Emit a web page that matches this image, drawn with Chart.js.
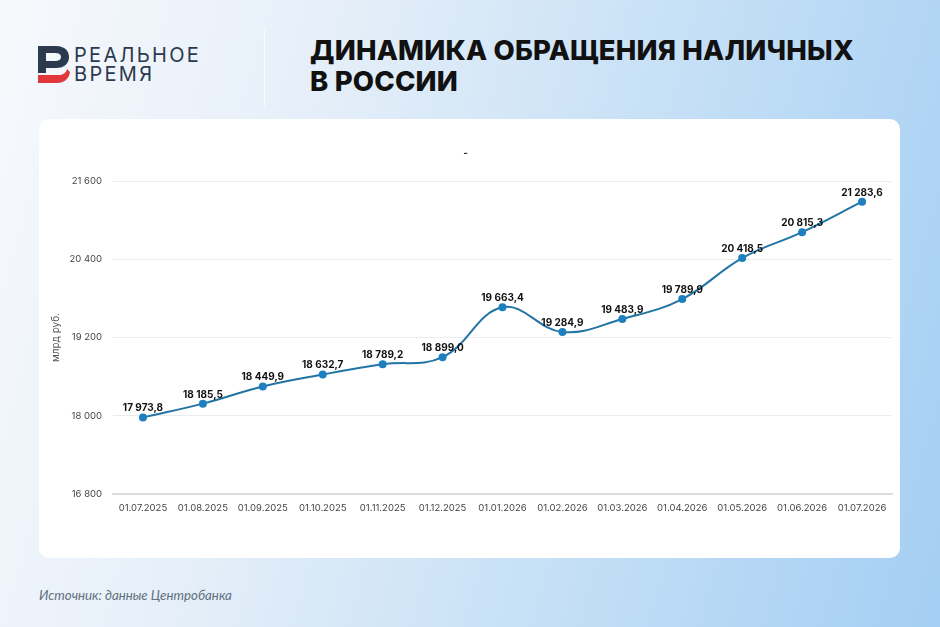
<!DOCTYPE html>
<html>
<head>
<meta charset="utf-8">
<script src="https://cdn.jsdelivr.net/npm/chart.js@4.4.1/dist/chart.umd.min.js"></script>
<style>
  html, body { margin: 0; padding: 0; }
  body {
    width: 940px; height: 627px; position: relative; overflow: hidden;
    background: linear-gradient(105deg, #f7f9fc 0%, #e6eff9 30%, #c4dff6 65%, #a4cef3 100%);
    font-family: Inter, "Noto Sans", sans-serif;
  }
  .logo-mark { position: absolute; left: 38px; top: 46px; }
  .logo-text {
    position: absolute; left: 74px; top: 46px; color: #2b3a4f;
    font-family: Inter, sans-serif; font-weight: 400; font-size: 20px; line-height: 19px; letter-spacing: 2.3px;
  }
  .sep { position: absolute; left: 264px; top: 30px; width: 1px; height: 76px; background: rgba(255,255,255,0.8); }
  .title {
    position: absolute; left: 310px; top: 35px; color: #111;
    font-family: Inter, sans-serif; font-weight: 800; font-size: 27.5px; line-height: 31px; letter-spacing: 0.2px;
  }
  .card { position: absolute; left: 39px; top: 119px; width: 861px; height: 439px; background: #fff; border-radius: 10px; }
  .card canvas { position: absolute; left: 0; top: 0; }
  .source {
    position: absolute; left: 39px; top: 587px; color: #5f7180;
    font-family: Lato, sans-serif; font-style: italic; font-weight: 400; font-size: 13.3px;
  }
</style>
</head>
<body>
<svg class="logo-mark" width="32" height="38" viewBox="0 0 32 38">
  <path d="M0 0 H18 C27 0 31 5 31 11 C31 17 27 22 18 22 H8 V27 H0 Z M8 7 V15 H17 C21 15 23 13.5 23 11 C23 8.5 21 7 17 7 Z" fill="#2b3a4f"/>
  <path d="M0 29 H20 C25 29 28 27 29 23 L32 26 C31 33 26 37 19 37 H0 Z" fill="#e0383b"/>
</svg>
<div class="logo-text">РЕАЛЬНОЕ<br>ВРЕМЯ</div>
<div class="sep"></div>
<div class="title">ДИНАМИКА ОБРАЩЕНИЯ НАЛИЧНЫХ<br>В РОССИИ</div>
<div class="card"><canvas id="chart" width="861" height="439"></canvas></div>
<div class="source">Источник: данные Центробанка</div>
<script>
const dates = ['01.07.2025', '01.08.2025', '01.09.2025', '01.10.2025', '01.11.2025', '01.12.2025',
  '01.01.2026', '01.02.2026', '01.03.2026', '01.04.2026', '01.05.2026', '01.06.2026', '01.07.2026'];
const cash = [17973.8, 18185.5, 18449.9, 18632.7, 18789.2, 18899.0,
  19663.4, 19284.9, 19483.9, 19789.9, 20418.5, 20815.3, 21283.6];
const yTicks = [16800, 18000, 19200, 20400, 21600];

function fmt(v, dec) {
  const parts = v.toFixed(dec).split('.');
  parts[0] = parts[0].replace(/\B(?=(\d{3})+(?!\d))/g, ' ');
  return parts.join(',');
}

const valueLabels = {
  id: 'valueLabels',
  afterDatasetsDraw(chart) {
    const ctx = chart.ctx;
    const meta = chart.getDatasetMeta(0);
    ctx.save();
    ctx.font = 'bold 10px Inter, sans-serif';
    ctx.fillStyle = '#111';
    ctx.textAlign = 'center';
    ctx.textBaseline = 'bottom';
    meta.data.forEach((pt, i) => {
      ctx.fillText(fmt(cash[i], 1), pt.x, pt.y - 4);
    });
    ctx.restore();
  }
};

new Chart(document.getElementById('chart'), {
  type: 'line',
  data: {
    labels: dates,
    datasets: [{
      label: 'Наличные',
      data: cash,
      borderColor: '#2274a5',
      backgroundColor: '#1c7fc0',
      borderWidth: 2,
      pointRadius: 4,
      pointBorderWidth: 0,
      pointBackgroundColor: '#1c7fc0',
      tension: 0.4
    }]
  },
  options: {
    responsive: false,
    animation: false,
    layout: { padding: { left: 0, right: 8, top: 0, bottom: 0 } },
    plugins: {
      legend: { display: false },
      tooltip: { enabled: false },
      title: {
        display: true, text: '-', color: '#333',
        font: { family: 'Inter', size: 10 },
        padding: { top: 28, bottom: 22 }
      }
    },
    scales: {
      x: {
        offset: true,
        grid: { display: false, drawTicks: false },
        border: { display: true, color: '#dcdcdc', width: 2 },
        ticks: { color: '#444', font: { family: 'Inter', size: 9.5 }, padding: 8, maxRotation: 0, autoSkip: false },
        afterFit(s) { s.height = 64; }
      },
      y: {
        min: 16800, max: 21600,
        afterBuildTicks(s) { s.ticks = yTicks.map(v => ({ value: v })); },
        grid: { color: '#ececec', drawTicks: false },
        border: { display: false },
        ticks: { color: '#444', font: { family: 'Inter', size: 9.5 }, padding: 11, callback: v => fmt(v, 0) },
        title: { display: true, text: 'млрд руб.', color: '#555', font: { family: 'Inter', size: 10 }, padding: { top: 11, bottom: 0 } },
        afterFit(s) { s.width = 74; }
      }
    }
  },
  plugins: [valueLabels]
});
</script>
</body>
</html>
